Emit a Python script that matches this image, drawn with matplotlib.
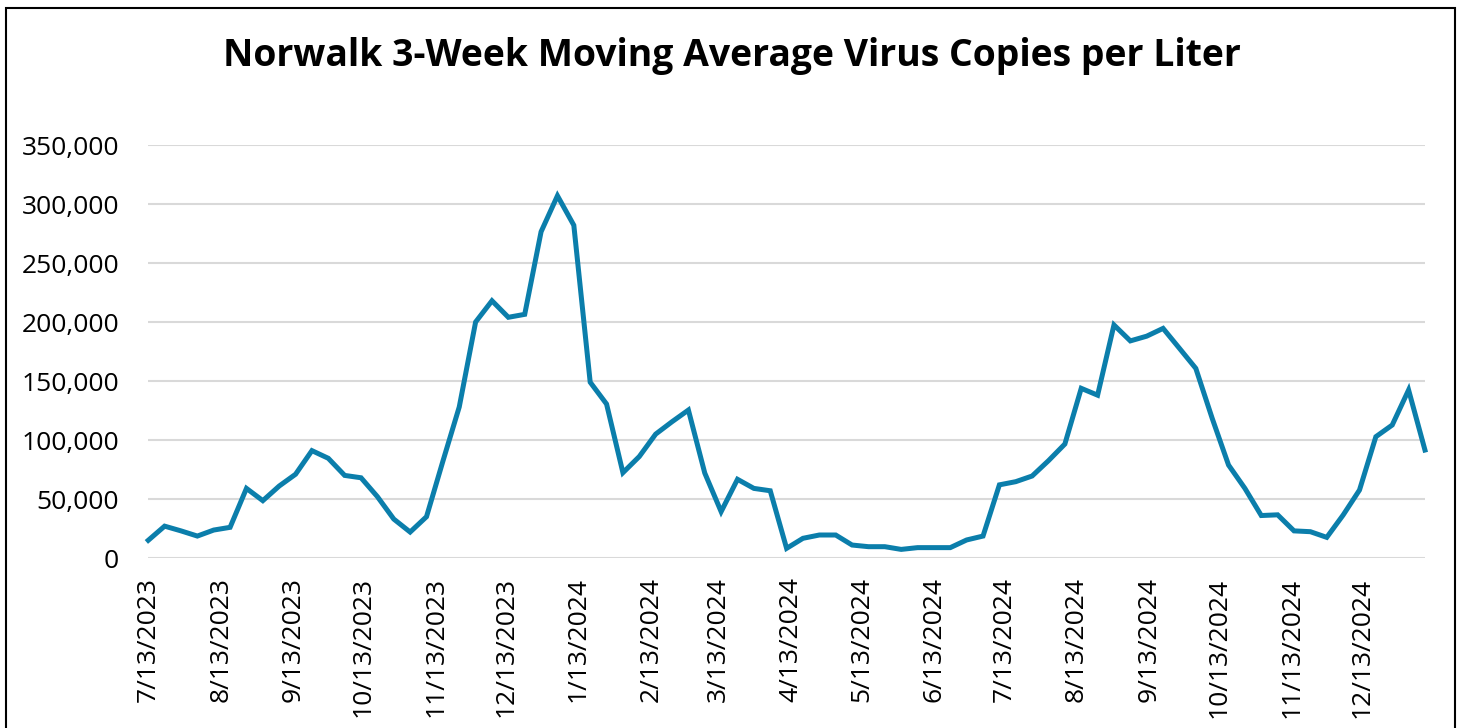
import numpy as np
import pandas as pd
from matplotlib import pyplot as plt
from matplotlib.patches import Rectangle
from matplotlib.ticker import FuncFormatter

# weekly 3-week moving average, starting 7/13/2023
start_date = "2023-07-13"
copies_per_liter = [
    15000, 27000, 23000, 18600, 23700, 26000, 59000, 48600, 61000, 71000,
    91000, 84500, 70000, 68000, 52000, 33000, 22000, 35000, 82000, 128000,
    200000, 218000, 204000, 206500, 276500, 307000, 282000, 149000, 130500, 72300,
    86000, 105000, 115500, 125400, 72000, 39300, 66700, 59000, 57000, 8200,
    16700, 19500, 19500, 11000, 9600, 9600, 7300, 8800, 8800, 8800,
    15300, 18600, 62000, 64700, 69500, 82500, 96600, 143800, 138000, 197500,
    184000, 188000, 194600, 177700, 160700, 118400, 78800, 59000, 36000, 36600,
    23000, 22300, 17500, 36400, 57600, 102800, 112700, 142400, 91500,
]
title = "Norwalk 3-Week Moving Average Virus Copies per Liter"
y_ticks = [0, 50000, 100000, 150000, 200000, 250000, 300000, 350000]

plt.rcParams['font.family'] = ['Open Sans', 'DejaVu Sans']

dates = pd.date_range(start_date, periods=len(copies_per_liter), freq="7D")
# ticks on the 13th of every month
tick_dates = pd.date_range("2023-07-01", "2024-12-01", freq="MS") + pd.Timedelta(days=12)

fig = plt.figure(figsize=(14.63, 7.28), dpi=100)
ax = fig.add_axes([0.1012, 0.2335, 0.8728, 0.5673])

ax.plot(dates, copies_per_liter, color="#0B7EAB", linewidth=3.6,
        solid_joinstyle="miter", clip_on=False, zorder=3)

ax.set_ylim(0, 350000)
ax.set_yticks(y_ticks)
ax.yaxis.set_major_formatter(FuncFormatter(lambda v, p: f"{int(v):,}"))
ax.set_xlim(dates[0] - pd.Timedelta(hours=2), dates[-1])
ax.set_xticks(tick_dates)
ax.set_xticklabels([f"{d.month}/{d.day}/{d.year}" for d in tick_dates])

ax.grid(axis="y", color="#D9D9D9", linewidth=1.5)
ax.set_axisbelow(True)
for s in ax.spines.values():
    s.set_visible(False)
ax.tick_params(axis="both", length=0, labelsize=19, colors="black")
ax.tick_params(axis="y", pad=21)
ax.tick_params(axis="x", pad=14)
for lbl in ax.get_xticklabels():
    lbl.set_rotation(90)
    lbl.set_rotation_mode("default")
    lbl.set_verticalalignment("top")
    lbl.set_horizontalalignment("center")

fig.text(0.5, 0.923, title, ha="center", va="center",
         fontsize=26.9, fontweight="bold")

fig.patches.append(Rectangle((6 / 1463, -0.05), 1449 / 1463, 1.05 - 8 / 728,
                             transform=fig.transFigure, fill=False,
                             edgecolor="black", linewidth=1.5))

fig.savefig("out.png", dpi=100)
